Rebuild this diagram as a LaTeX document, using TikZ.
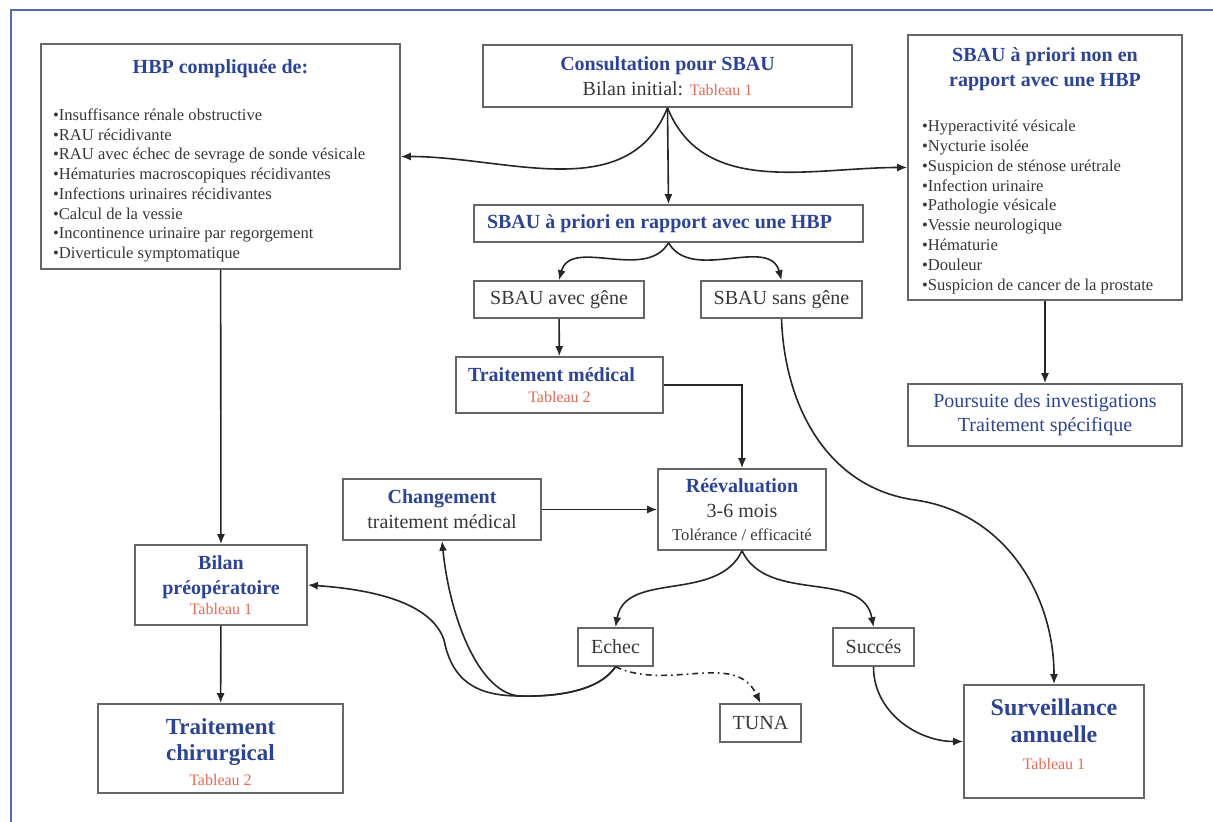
\documentclass[tikz,border=0pt]{standalone}
\usepackage{fontspec}
\setmainfont{Liberation Serif}
\usetikzlibrary{arrows.meta}
\definecolor{hbpblue}{RGB}{45,68,148}
\definecolor{tabred}{RGB}{230,105,85}
\definecolor{txtgray}{RGB}{55,55,55}
\definecolor{frameblue}{RGB}{80,108,175}
\newcommand{\hbpttl}[1]{{\bfseries\color{hbpblue}#1}}
\newcommand{\tabref}[1]{{\fontsize{8}{9.6}\selectfont\color{tabred}#1}}

\begin{document}
\begin{tikzpicture}[x=0.5pt, y=-0.5pt,
  box/.style={draw=black!60, line width=0.8pt, inner sep=0pt, align=center, text=txtgray, font=\fontsize{10}{12.5}\selectfont},
  leftbox/.style={box, align=left, execute at begin node={\spaceskip=0pt\xspaceskip=0pt\relax}},
  listbox/.style={leftbox, font=\fontsize{8.3}{9.86}\selectfont},
  conn/.style={-{Latex[length=5pt, width=4pt]}, line width=0.8pt, black!85}]
\useasboundingbox (0,0) rectangle (1213,822);
\draw[frameblue, line width=1pt] (11,10) rectangle (1240,850);

\node[listbox, text width=167.5pt, inner xsep=6pt, minimum height=112.5pt] (hbp) at (220.5,156.5)
  {\makebox[\linewidth]{\rule{0pt}{14.75pt}\fontsize{10}{12}\selectfont\hbpttl{HBP compliquée de:}}\\[13.64pt]
   •Insuffisance rénale obstructive\\
   •RAU récidivante\\
   •RAU avec échec de sevrage de sonde vésicale\\
   •Hématuries macroscopiques récidivantes\\
   •Infections urinaires récidivantes\\
   •Calcul de la vessie\\
   •Incontinence urinaire par regorgement\\
   •Diverticule symptomatique\rule[-5.25pt]{0pt}{5.25pt}};
\node[box, minimum width=184.5pt, minimum height=31pt] (consult) at (667.5,76) {\hbpttl{Consultation pour SBAU}\\Bilan initial: \tabref{Tableau 1}};
\node[listbox, text width=123pt, inner xsep=7pt, minimum height=132.5pt, font=\fontsize{8.3}{9.9}\selectfont] (nonhbp) at (1045,167.5)
  {\makebox[\linewidth]{\rule{0pt}{13.25pt}\fontsize{10}{12}\selectfont\hbpttl{SBAU à priori non en}}\\[2.6pt]
   \makebox[\linewidth]{\fontsize{10}{12}\selectfont\hbpttl{rapport avec une HBP}}\\[12.6pt]
   •Hyperactivité vésicale\\
   •Nycturie isolée\\
   •Suspicion de sténose urétrale\\
   •Infection urinaire\\
   •Pathologie vésicale\\
   •Vessie neurologique\\
   •Hématurie\\
   •Douleur\\
   •Suspicion de cancer de la prostate\rule[-4.75pt]{0pt}{4.75pt}};
\node[leftbox, text width=181.5pt, inner xsep=6.5pt, minimum height=18.5pt] (hbpyes) at (668.5,223.5) {\hbpttl{SBAU à priori en rapport avec une HBP}};
\node[box, text=hbpblue, minimum width=137pt, minimum height=31pt, font=\fontsize{10}{12}\selectfont] (poursuite) at (1045,415) {Poursuite des investigations\\Traitement spécifique};

\node[box, minimum width=85pt, minimum height=18.5pt] (avec) at (559,299.5) {SBAU avec gêne};
\node[box, minimum width=80.5pt, minimum height=18.5pt] (sans) at (781.5,299.5) {SBAU sans gêne};
\node[leftbox, text width=91.5pt, inner xsep=6pt, minimum height=28pt] (medic) at (559.5,385) {\hbpttl{Traitement médical}\\[-2pt]\makebox[\linewidth]{\tabref{Tableau 2}}};
\node[box, minimum width=99pt, minimum height=30.5pt] (change) at (442,509.5) {\hbpttl{Changement}\\traitement médical};
\node[box, minimum width=84pt, minimum height=40.5pt] (reeval) at (742,509.5) {\hbpttl{Réévaluation}\\3-6 mois\\[-1pt]{\fontsize{8.3}{10}\selectfont Tolérance / efficacité}};
\node[box, minimum width=37.5pt, minimum height=19pt] (echec) at (615.5,647) {Echec};
\node[box, minimum width=40.5pt, minimum height=19pt] (tuna) at (760.5,723) {TUNA};
\node[box, minimum width=40.5pt, minimum height=19pt] (succes) at (873.5,647) {Succés};

\node[box, minimum width=86pt, minimum height=40pt] (bilan) at (221,585) {\hbpttl{Bilan}\\\hbpttl{préopératoire}\\[-2.5pt]\tabref{Tableau 1}};
\node[box, minimum width=122.5pt, minimum height=44.5pt, font=\fontsize{11.5}{13}\selectfont] (chir) at (220.5,748.5) {\rule{0pt}{12pt}\hbpttl{Traitement}\\\hbpttl{chirurgical}\\[-0.5pt]\tabref{Tableau 2}};
\node[box, minimum width=90pt, minimum height=56.5pt, font=\fontsize{12}{13.5}\selectfont] (surv) at (1054,741.5) {\hbpttl{Surveillance}\\\hbpttl{annuelle}\\\tabref{Tableau 1}\rule[-7pt]{0pt}{7pt}};

\coordinate (bend) at (915,500);
\coordinate (low) at (520,696);
\coordinate (dip) at (444,640);

\draw[conn] (consult.south) to[out=-112, in=0] (hbp.east);
\draw[conn] (consult.south) -- (hbpyes.north);
\draw[conn] (consult.south) to[out=-68, in=180] (nonhbp.west);
\draw[conn] (nonhbp) -- (poursuite);
\draw[conn] (hbpyes.south) to[out=-120, in=75] (avec.north);
\draw[conn] (hbpyes.south) to[out=-60, in=105] (sans.north);
\draw[conn] (avec) -- (medic);
\draw[conn] (medic.east) -| (reeval.north);
\draw[conn] (sans.south) to[out=-88, in=172] (bend) to[out=-8, in=90] (surv.north);
\draw[conn] (change) -- (reeval);
\draw[conn] (reeval.south) to[out=-115, in=80] (echec.north);
\draw[conn] (reeval.south) to[out=-65, in=100] (succes.north);
\draw[conn, dash dot] (echec.south) to[out=-25, in=115] (tuna.north);
\draw[conn] (echec.south) .. controls (600,690) and (560,697) .. (low) .. controls (480,694) and (450,620) .. (change.south);
\draw[conn] (echec.south) .. controls (600,690) and (560,697) .. (low) .. controls (475,696) and (452,680) .. (dip) .. controls (432,605) and (380,590) .. (bilan.east);
\draw[conn] (succes.south) to[out=-90, in=180] (surv.west);
\draw[conn] (hbp) -- (bilan);
\draw[conn] (bilan) -- (chir);
\end{tikzpicture}
\end{document}
